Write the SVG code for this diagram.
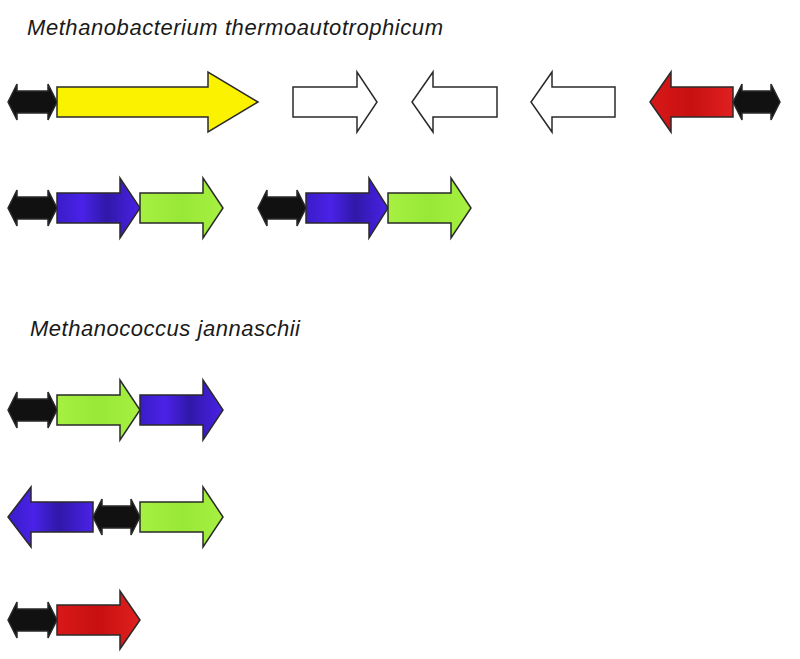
<svg xmlns="http://www.w3.org/2000/svg" width="800" height="659" viewBox="0 0 800 659">
<style>
.t{font-family:"Liberation Sans",Arial,sans-serif;font-style:italic;font-size:22px;fill:#1a1a1a}
.g{stroke:#2a2a2a;stroke-width:1.5;stroke-linejoin:miter}
.blk{fill:#111}
.yel{fill:#fbf200}
.wht{fill:#fff}
.red{fill:url(#gr)}
.blu{fill:url(#gb)}
.grn{fill:url(#gg)}
</style>
<defs>
<linearGradient id="gb" x1="0" y1="0" x2="1" y2="0">
<stop offset="0" stop-color="#3a1cc8"/><stop offset="0.3" stop-color="#4a22e8"/><stop offset="0.6" stop-color="#3018a8"/><stop offset="1" stop-color="#4a22e8"/>
</linearGradient>
<linearGradient id="gg" x1="0" y1="0" x2="1" y2="0">
<stop offset="0" stop-color="#a6f040"/><stop offset="0.5" stop-color="#98e838"/><stop offset="1" stop-color="#a6f040"/>
</linearGradient>
<linearGradient id="gr" x1="0" y1="0" x2="1" y2="0">
<stop offset="0" stop-color="#d81818"/><stop offset="0.5" stop-color="#c81010"/><stop offset="1" stop-color="#e02020"/>
</linearGradient>
</defs>
<rect width="800" height="659" fill="#fff"/>
<text class="t" x="27" y="35" textLength="416" lengthAdjust="spacing">Methanobacterium thermoautotrophicum</text>
<text class="t" x="30" y="336" textLength="270" lengthAdjust="spacing">Methanococcus jannaschii</text>

<g id="row1">
<g id="r1-black1"><path class="g blk" d="M8,102 L17,84 V91 H48 V84 L57,102 L48,120 V113 H17 V120 Z"/></g>
<g id="r1-yellow"><path class="g yel" d="M57,87 H208 V72 L258,102 L208,132 V117 H57 Z"/></g>
<g id="r1-white1"><path class="g wht" d="M293,87 H357 V72 L377,102 L357,132 V117 H293 Z"/></g>
<g id="r1-white2"><path class="g wht" d="M497,87 H433 V72 L412,102 L433,132 V117 H497 Z"/></g>
<g id="r1-white3"><path class="g wht" d="M615,87 H552 V72 L531,102 L552,132 V117 H615 Z"/></g>
<g id="r1-red"><path class="g red" d="M733,87 H671 V72 L650,102 L671,132 V117 H733 Z"/></g>
<g id="r1-black2"><path class="g blk" d="M733,102 L742,84 V91 H771 V84 L780,102 L771,120 V113 H742 V120 Z"/></g>
</g>

<g id="row2">
<g id="r2-black1"><path class="g blk" d="M8,208 L17,190 V197 H48 V190 L57,208 L48,226 V219 H17 V226 Z"/></g>
<g id="r2-blue1"><path class="g blu" d="M57,193 H120 V178 L140,208 L120,238 V223 H57 Z"/></g>
<g id="r2-green1"><path class="g grn" d="M140,193 H203 V178 L223,208 L203,238 V223 H140 Z"/></g>
<g id="r2-black2"><path class="g blk" d="M258,208 L267,190 V197 H297 V190 L306,208 L297,226 V219 H267 V226 Z"/></g>
<g id="r2-blue2"><path class="g blu" d="M306,193 H369 V178 L388,208 L369,238 V223 H306 Z"/></g>
<g id="r2-green2"><path class="g grn" d="M388,193 H451 V178 L471,208 L451,238 V223 H388 Z"/></g>
</g>

<g id="row3">
<g id="r3-black"><path class="g blk" d="M8,410 L17,392 V399 H48 V392 L57,410 L48,428 V421 H17 V428 Z"/></g>
<g id="r3-green"><path class="g grn" d="M57,395 H120 V380 L140,410 L120,440 V425 H57 Z"/></g>
<g id="r3-blue"><path class="g blu" d="M140,395 H203 V380 L223,410 L203,440 V425 H140 Z"/></g>
</g>

<g id="row4">
<g id="r4-blue"><path class="g blu" d="M93,502 H31 V487 L8,517 L31,547 V532 H93 Z"/></g>
<g id="r4-black"><path class="g blk" d="M93,517 L102,499 V506 H131 V499 L140,517 L131,535 V528 H102 V535 Z"/></g>
<g id="r4-green"><path class="g grn" d="M140,502 H203 V487 L223,517 L203,547 V532 H140 Z"/></g>
</g>

<g id="row5">
<g id="r5-black"><path class="g blk" d="M8,620 L17,602 V609 H48 V602 L57,620 L48,638 V631 H17 V638 Z"/></g>
<g id="r5-red"><path class="g red" d="M57,605 H120 V591 L140,620 L120,649 V635 H57 Z"/></g>
</g>
</svg>
